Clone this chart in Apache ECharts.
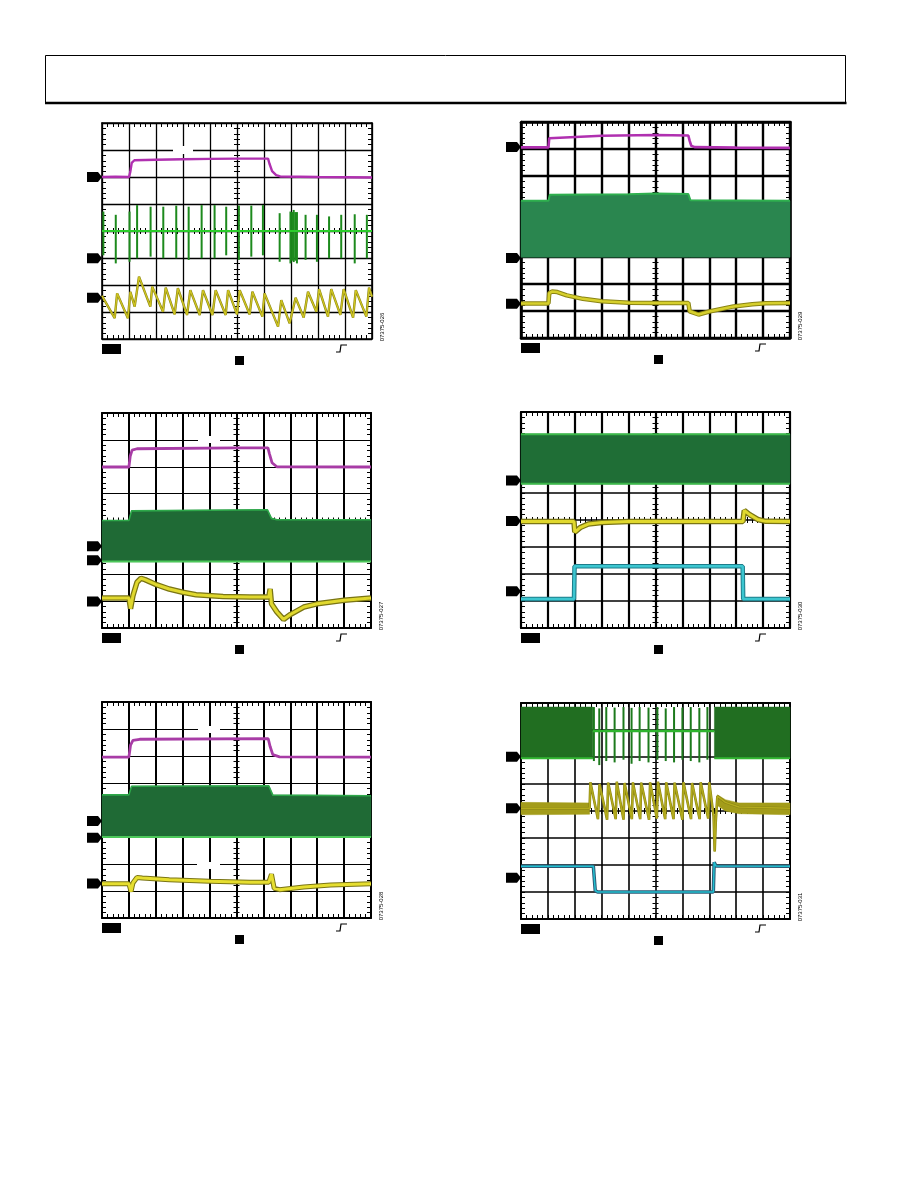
<!DOCTYPE html>
<html><head><meta charset="utf-8">
<script src="https://cdn.jsdelivr.net/npm/echarts@6/dist/echarts.min.js"></script>
<style>html,body{margin:0;padding:0;background:#fff}#c{width:918px;height:1188px}</style>
</head><body><div id="c"></div><script>
// ---------- DATA (x in divisions 0..10, y in divisions 0..8) ----------
var figLabels = ['07375-026','07375-029','07375-027','07375-030','07375-028','07375-031'];

// Plot 1
var p1Ch1 = [[0,6.0],[0.5,6.01],[1.0,6.0],[1.05,6.2],[1.1,6.52],[1.2,6.62],[2,6.64],[3,6.66],[4,6.67],[5,6.68],[6.15,6.68],[6.2,6.5],[6.3,6.22],[6.45,6.07],[6.6,6.02],[8,6.0],[10,5.98]];
var p1Ch2Base = [[0,4.0],[10,4.0]];
var p1SpikeX   = [0.05,0.51,1.02,1.3,1.8,2.27,2.75,3.21,3.69,4.17,4.6,5.07,5.53,5.96,6.58,6.98,7.04,7.1,7.16,7.22,7.54,7.96,8.41,8.86,9.36,9.81];
var p1SpikeTop = [4.72,4.6,4.72,4.96,4.9,4.9,4.94,4.9,4.96,4.96,4.9,4.94,4.94,4.96,4.66,4.72,4.7,4.78,4.7,4.7,4.6,4.6,4.54,4.6,4.62,4.6];
var p1SpikeBot = [3.1,2.8,2.86,2.99,3.05,2.99,2.99,2.93,2.99,2.99,3.1,2.93,3.05,3.1,2.86,2.8,2.9,2.85,2.9,2.8,2.93,2.86,2.99,2.99,2.8,2.99];
var p1Ch3 = [[0,1.6],[0.47,0.77],[0.56,1.69],[0.96,0.77],[1.05,1.75],[1.21,1.2],[1.37,2.31],[1.79,1.2],[1.86,1.94],[2.26,1.01],[2.36,1.9],[2.69,0.91],[2.81,1.88],[3.15,0.89],[3.27,1.81],[3.62,0.89],[3.74,1.81],[4.09,0.89],[4.21,1.81],[4.58,0.89],[4.67,1.81],[5.0,0.91],[5.1,1.81],[5.47,0.91],[5.57,1.75],[5.94,0.83],[6.02,1.69],[6.52,0.46],[6.64,1.44],[6.95,0.58],[7.17,1.53],[7.47,0.79],[7.63,1.75],[7.94,1.01],[8.04,1.85],[8.37,0.83],[8.49,1.85],[8.83,0.89],[8.95,1.85],[9.3,0.79],[9.4,1.81],[9.79,0.83],[9.89,1.9],[10,1.57]];
var p1Ground = [6.0, 2.99, 1.53];

// Plot 2
var p2Ch1 = [[0,7.06],[1.02,7.06],[1.05,7.4],[1.1,7.47],[3,7.49],[5,7.52],[6.22,7.5],[6.27,7.3],[6.33,7.12],[6.45,7.07],[8,7.05],[10,7.04]];
var p2BandX  = [0,1.02,1.07,4.0,5.0,6.22,6.3,10];
var p2BandUp = [5.08,5.08,5.31,5.32,5.35,5.33,5.1,5.08];
var p2BandLo = [2.99,2.99,2.99,2.99,2.99,2.99,2.99,2.99];
var p2Ch3 = [[0,1.28],[1.02,1.28],[1.05,1.66],[1.15,1.72],[1.35,1.7],[1.7,1.58],[2.3,1.45],[3,1.36],[4,1.31],[5,1.3],[6.22,1.3],[6.27,0.99],[6.6,0.87],[7.0,0.98],[7.9,1.17],[8.6,1.25],[9.1,1.29],[10,1.3]];
var p2Ground = [7.07, 2.96, 1.27];

// Plot 3
var p3Ch1 = [[0,5.99],[1.0,5.99],[1.05,6.4],[1.12,6.62],[1.3,6.67],[5,6.7],[6.17,6.7],[6.22,6.5],[6.32,6.15],[6.5,6.0],[10,5.99]];
var p3BandX  = [0,1.0,1.1,6.15,6.3,6.5,10];
var p3BandUp = [4.0,4.0,4.36,4.4,4.08,4.03,4.03];
var p3BandLo = [2.47,2.47,2.47,2.47,2.47,2.47,2.47];
var p3Ch3 = [[0,1.12],[1.0,1.12],[1.06,0.72],[1.15,1.2],[1.3,1.7],[1.45,1.85],[1.6,1.8],[2.0,1.62],[2.5,1.45],[3,1.33],[3.5,1.24],[4.5,1.17],[5.5,1.15],[6.2,1.15],[6.25,1.45],[6.3,0.9],[6.5,0.6],[6.75,0.32],[7,0.5],[7.5,0.78],[8,0.9],[9,1.03],[10,1.12]];
var p3Ground = [3.04, 2.52, 0.99];

// Plot 4
var p4BandX  = [0,10];
var p4BandUp = [7.18,7.18];
var p4BandLo = [5.34,5.34];
var p4Ch3 = [[0,3.94],[1.97,3.94],[2.0,3.55],[2.2,3.72],[2.5,3.85],[3.0,3.91],[4,3.94],[8.25,3.94],[8.3,4.35],[8.5,4.2],[8.8,4.02],[9.1,3.95],[10,3.94]];
var p4Ch4 = [[0,1.07],[1.97,1.07],[1.99,2.29],[8.24,2.29],[8.26,1.07],[10,1.07]];
var p4Ground = [5.46, 3.96, 1.36];

// Plot 5
var p5Ch1 = [[0,5.96],[1.0,5.96],[1.06,6.4],[1.15,6.58],[1.4,6.62],[6.18,6.64],[6.25,6.35],[6.35,6.05],[6.6,5.97],[10,5.96]];
var p5BandX  = [0,1.0,1.1,6.2,6.35,10];
var p5BandUp = [4.56,4.56,4.88,4.9,4.55,4.53];
var p5BandLo = [3.0,3.0,3.0,3.0,3.0,3.0];
var p5Ch3 = [[0,1.27],[1.0,1.27],[1.08,0.98],[1.15,1.3],[1.3,1.5],[1.5,1.48],[2.5,1.42],[4,1.36],[5.5,1.32],[6.2,1.32],[6.3,1.62],[6.4,1.1],[6.6,1.05],[7.5,1.15],[8.5,1.22],[10,1.27]];
var p5Ground = [3.59, 2.97, 1.28];

// Plot 6
var p6BandLX = [0,2.67], p6BandLUp = [7.85,7.85], p6BandLLo = [5.95,5.95];
var p6BandRX = [7.19,10], p6BandRUp = [7.85,7.85], p6BandRLo = [5.95,5.95];
var p6Ch2Base = [[2.67,6.96],[7.19,6.96]];
var p6SpikeX   = [2.71,2.91,3.17,3.48,3.81,4.11,4.41,4.74,5.07,5.38,5.69,6.0,6.31,6.63,6.93];
var p6SpikeTop = [7.85,7.8,7.85,7.83,7.85,7.82,7.85,7.83,7.85,7.8,7.85,7.83,7.85,7.82,7.85];
var p6SpikeBot = [5.85,5.7,5.85,5.8,5.9,5.75,5.85,5.8,5.9,5.85,5.8,5.9,5.85,5.8,5.9];
var p6NoiseLX = [0,2.55], p6NoiseLUp = [4.32,4.3], p6NoiseLLo = [3.86,3.88];
var p6NoiseRX = [7.3,7.6,8.1,10], p6NoiseRUp = [4.6,4.42,4.3,4.3], p6NoiseRLo = [4.2,4.0,3.9,3.86];
var p6Ch3 = [[0,4.1],[2.55,4.1],[2.58,5.06],[2.86,3.7],[2.92,5.0],[3.2,3.68],[3.24,5.05],[3.52,3.7],[3.56,5.08],[3.81,3.68],[3.85,5.04],[4.12,3.7],[4.16,5.06],[4.43,3.7],[4.47,5.05],[4.76,3.68],[4.8,5.06],[5.05,3.72],[5.09,5.08],[5.36,3.7],[5.4,5.06],[5.67,3.7],[5.71,5.05],[6.0,3.68],[6.04,5.06],[6.32,3.7],[6.36,5.04],[6.64,3.7],[6.68,5.06],[6.96,3.72],[7.0,5.06],[7.16,3.8],[7.2,2.5],[7.24,3.6],[7.3,4.55],[7.6,4.32],[8.1,4.15],[10,4.1]];
var p6Ch4 = [[0,1.95],[2.69,1.95],[2.72,1.9],[2.76,1.05],[2.85,1.0],[5,1.0],[7.15,1.0],[7.18,2.1],[7.25,1.96],[10,1.95]];
var p6Ground = [6.01, 4.1, 1.53];

// ---------- LAYOUT ----------
var layouts = [
  {left:102, top:123, width:270, height:216, vw:1.3, hw:1.3, bw:1.6},
  {left:521, top:122, width:269, height:216, vw:2.4, hw:2.4, bw:2.6},
  {left:102, top:413, width:269, height:215, vw:2.0, hw:1.2, bw:2.0},
  {left:521, top:412, width:269, height:216, vw:2.2, hw:1.5, bw:2.0},
  {left:102, top:702, width:269, height:216, vw:2.0, hw:1.2, bw:2.0},
  {left:521, top:703, width:269, height:216, vw:1.6, hw:1.6, bw:2.0}
];

var chart = echarts.init(document.getElementById('c'), null, {renderer:'canvas', width:918, height:1188});
var grid=[], xAxis=[], yAxis=[], series=[], graphic=[];

function tick(len, inside){ return {show:true, inside:inside, length:len, lineStyle:{color:'#000', width:1}}; }
function minor(len){ return {show:true, splitNumber:5, length:len, lineStyle:{color:'#000', width:1}}; }
var HID = {show:false};

layouts.forEach(function(L, i){
  grid.push({left:L.left, top:L.top, width:L.width, height:L.height, show:false});
  var b = i*4;
  xAxis.push({gridIndex:i, type:'value', min:0, max:10, interval:1, position:'bottom',
    axisLine:{show:true, onZero:false, lineStyle:{color:'#000', width:L.bw}},
    axisTick:tick(4,true), minorTick:minor(4), axisLabel:HID,
    splitLine:{show:true, lineStyle:{color:'#000', width:L.vw}}, minorSplitLine:HID});
  xAxis.push({gridIndex:i, type:'value', min:0, max:10, interval:1, position:'top',
    axisLine:{show:true, onZero:false, lineStyle:{color:'#000', width:L.bw}},
    axisTick:tick(4,true), minorTick:minor(4), axisLabel:HID, splitLine:HID});
  xAxis.push({gridIndex:i, type:'value', min:-5, max:5, interval:1, position:'bottom',
    axisLine:{show:false, onZero:true, onZeroAxisIndex:b+2},
    axisTick:tick(3,true), minorTick:minor(3), axisLabel:HID, splitLine:HID});
  xAxis.push({gridIndex:i, type:'value', min:-5, max:5, interval:1, position:'bottom',
    axisLine:{show:false, onZero:true, onZeroAxisIndex:b+2},
    axisTick:tick(3,false), minorTick:minor(3), axisLabel:HID, splitLine:HID});
  yAxis.push({gridIndex:i, type:'value', min:0, max:8, interval:1, position:'left',
    axisLine:{show:true, onZero:false, lineStyle:{color:'#000', width:L.bw}},
    axisTick:tick(4,true), minorTick:minor(4), axisLabel:HID,
    splitLine:{show:true, lineStyle:{color:'#000', width:L.hw}}, minorSplitLine:HID});
  yAxis.push({gridIndex:i, type:'value', min:0, max:8, interval:1, position:'right',
    axisLine:{show:true, onZero:false, lineStyle:{color:'#000', width:L.bw}},
    axisTick:tick(4,true), minorTick:minor(4), axisLabel:HID, splitLine:HID});
  yAxis.push({gridIndex:i, type:'value', min:-4, max:4, interval:1, position:'left',
    axisLine:{show:false, onZero:true, onZeroAxisIndex:b+2},
    axisTick:tick(3,true), minorTick:minor(3), axisLabel:HID, splitLine:HID});
  yAxis.push({gridIndex:i, type:'value', min:-4, max:4, interval:1, position:'left',
    axisLine:{show:false, onZero:true, onZeroAxisIndex:b+2},
    axisTick:tick(3,false), minorTick:minor(3), axisLabel:HID, splitLine:HID});

  var gb = L.top + L.height, gl = L.left;
  graphic.push({type:'rect', z:10, shape:{x:gl, y:gb+5, width:19, height:10}, style:{fill:'#000'}});
  graphic.push({type:'rect', z:10, shape:{x:gl+133, y:gb+17, width:9, height:9}, style:{fill:'#000'}});
  graphic.push({type:'polyline', z:10, shape:{points:[[gl+234,gb+13],[gl+238,gb+13],[gl+239,gb+6],[gl+245,gb+6]]}, style:{stroke:'#000', lineWidth:1.2, fill:'none'}});
  graphic.push({type:'text', z:10, x:gl+L.width+10, y:gb-12, rotation:Math.PI/2,
    style:{text:figLabels[i], fontSize:6, fontFamily:'Liberation Sans', fill:'#000', align:'center', verticalAlign:'middle'}});
});

function ax(i){ return {xAxisIndex:i*4, yAxisIndex:i*4}; }
function line(i, data, color, width, z){
  return Object.assign({type:'line', data:data, symbol:'none', showSymbol:false, silent:true, animation:false,
    lineStyle:{color:color, width:width}, z:z||3}, ax(i));
}
function rows(X, A, B){ return X.map(function(x,k){ return [x, A[k], B[k]]; }); }
function edge(i, r, dim, color, width){
  return Object.assign({type:'line', data:r, encode:{x:0, y:dim}, symbol:'none', showSymbol:false, silent:true, animation:false,
    lineStyle:{color:color, width:width}, z:3}, ax(i));
}
function band(i, r, color){
  return Object.assign({type:'custom', data:r, silent:true, animation:false, z:2, encode:{x:0, y:[1,2]},
    renderItem:function(params, api){
      if (params.dataIndexInside !== 0) return null;
      var n = params.dataInsideLength, up=[], lo=[];
      for (var j=0;j<n;j++){
        up.push(api.coord([api.value(0,j), api.value(1,j)]));
        lo.push(api.coord([api.value(0,j), api.value(2,j)]));
      }
      return {type:'polygon', shape:{points: up.concat(lo.reverse())}, style:{fill:color, stroke:color, lineWidth:0.5}};
    }}, ax(i));
}
function spikes(i, r, color, w){
  return Object.assign({type:'custom', data:r, silent:true, animation:false, z:3, encode:{x:0, y:[1,2]},
    renderItem:function(params, api){
      var t = api.coord([api.value(0), api.value(1)]);
      var bb = api.coord([api.value(0), api.value(2)]);
      return {type:'rect', shape:{x:t[0]-w/2, y:t[1], width:w, height:bb[1]-t[1]}, style:{fill:color}};
    }}, ax(i));
}
function arrows(i, levels){
  return Object.assign({type:'scatter', data:levels.map(function(v){return [0,v];}), clip:false, silent:true, animation:false,
    symbol:'path://M0,0L11,0L15,5L11,10L0,10Z', symbolSize:[15,10], symbolOffset:['-50%',0],
    itemStyle:{color:'#000', opacity:1}, z:6}, ax(i));
}

// Plot 1
series.push(line(0, p1Ch1, '#b030b0', 2.4));
series.push(line(0, p1Ch2Base, '#2ccc2c', 2.2));
series.push(spikes(0, rows(p1SpikeX, p1SpikeTop, p1SpikeBot), '#1d8a1d', 2));
series.push(line(0, p1Ch3, '#8a8414', 2.4));
series.push(line(0, p1Ch3, '#cfc522', 1.3));
series.push(arrows(0, p1Ground));

// Plot 2
series.push(line(1, p2Ch1, '#b030b0', 2.6));
var r2 = rows(p2BandX, p2BandUp, p2BandLo);
series.push(band(1, r2, '#2a864f'));
series.push(edge(1, r2, 1, '#2fb04f', 2));
series.push(line(1, p2Ch3, '#8a8414', 4.5));
series.push(line(1, p2Ch3, '#d6cf2c', 2.5));
series.push(arrows(1, p2Ground));

// Plot 3
series.push(line(2, p3Ch1, '#a83ca6', 2.8));
var r3 = rows(p3BandX, p3BandUp, p3BandLo);
series.push(band(2, r3, '#1f6a35'));
series.push(edge(2, r3, 1, '#2ea84a', 1.6));
series.push(edge(2, r3, 2, '#4cc85a', 2));
series.push(line(2, p3Ch3, '#7a7514', 5.5));
series.push(line(2, p3Ch3, '#e0d82e', 3));
series.push(arrows(2, p3Ground));

// Plot 4
var r4 = rows(p4BandX, p4BandUp, p4BandLo);
series.push(band(3, r4, '#1f6e36'));
series.push(edge(3, r4, 1, '#3cb84a', 2));
series.push(edge(3, r4, 2, '#3cb84a', 2));
series.push(line(3, p4Ch3, '#7a7514', 5.5));
series.push(line(3, p4Ch3, '#e0d82e', 3));
series.push(line(3, p4Ch4, '#1d7c8a', 4.5));
series.push(line(3, p4Ch4, '#3cc6d0', 2.5));
series.push(arrows(3, p4Ground));

// Plot 5
series.push(line(4, p5Ch1, '#a83ca6', 2.8));
var r5 = rows(p5BandX, p5BandUp, p5BandLo);
series.push(band(4, r5, '#1f6a35'));
series.push(edge(4, r5, 1, '#2ea84a', 1.6));
series.push(edge(4, r5, 2, '#4cc85a', 2));
series.push(line(4, p5Ch3, '#7a7514', 5));
series.push(line(4, p5Ch3, '#e6de30', 3));
series.push(arrows(4, p5Ground));

// Plot 6
series.push(band(5, rows(p6BandLX, p6BandLUp, p6BandLLo), '#216e21'));
series.push(band(5, rows(p6BandRX, p6BandRUp, p6BandRLo), '#216e21'));
series.push(edge(5, rows(p6BandLX, p6BandLUp, p6BandLLo), 2, '#33b833', 2));
series.push(edge(5, rows(p6BandRX, p6BandRUp, p6BandRLo), 2, '#33b833', 2));
series.push(line(5, p6Ch2Base, '#2fb52f', 2.5));
series.push(spikes(5, rows(p6SpikeX, p6SpikeTop, p6SpikeBot), '#1c7a1c', 2));
series.push(band(5, rows(p6NoiseLX, p6NoiseLUp, p6NoiseLLo), '#a39c1a'));
series.push(band(5, rows(p6NoiseRX, p6NoiseRUp, p6NoiseRLo), '#a39c1a'));
series.push(line(5, p6Ch3, '#8a8414', 2.6));
series.push(line(5, p6Ch3, '#b3ab1c', 1.5));
series.push(line(5, p6Ch4, '#2d5a76', 3.5));
series.push(line(5, p6Ch4, '#22c0d0', 1.5));
series.push(arrows(5, p6Ground));

// page header frame
graphic.push({type:'rect', z:10, shape:{x:45.5, y:55.5, width:800, height:47.5}, style:{fill:'none', stroke:'#000', lineWidth:1}});
graphic.push({type:'line', z:10, shape:{x1:45, y1:103, x2:846.5, y2:103}, style:{stroke:'#000', lineWidth:2.5}});
// erased label gaps in the graticule
graphic.push({type:'rect', z:1, shape:{x:173, y:146, width:20, height:8}, style:{fill:'#fff'}});
graphic.push({type:'rect', z:1, shape:{x:198, y:436, width:22, height:7}, style:{fill:'#fff'}});
graphic.push({type:'rect', z:1, shape:{x:198, y:726, width:22, height:7}, style:{fill:'#fff'}});
graphic.push({type:'rect', z:1, shape:{x:197, y:862, width:23, height:7}, style:{fill:'#fff'}});

chart.setOption({
  backgroundColor:'#fff', animation:false,
  grid:grid, xAxis:xAxis, yAxis:yAxis, series:series, graphic:graphic
});
</script></body></html>
